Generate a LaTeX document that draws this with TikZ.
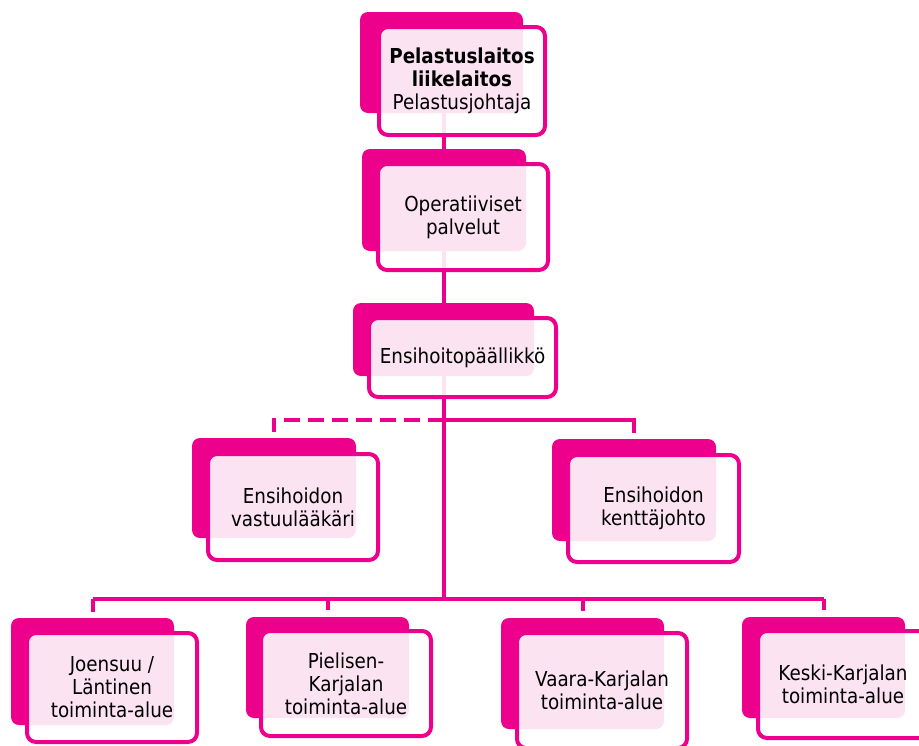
\documentclass[tikz,border=0pt]{standalone}
\usepackage{fontspec}
\setmainfont[FakeStretch=0.89]{DejaVu Sans}
\definecolor{mag}{HTML}{EC008C}
\pgfdeclarelayer{bg}
\pgfsetlayers{bg,main}
\begin{document}
\begin{tikzpicture}[x=1pt,y=-1pt,
  backbox/.style={fill=mag,draw=none,rounded corners=8pt,inner sep=0pt,outer sep=0pt},
  frontbox/.style={draw=mag,line width=4pt,rounded corners=9pt,fill=white,fill opacity=0.89,text opacity=1,
     inner sep=0pt,outer sep=0pt,align=center,text=black,font=\fontsize{20.6}{23}\selectfont},
  conn/.style={draw=mag,line width=4pt},
  dashconn/.style={conn,dash pattern=on 16pt off 8pt}]
\useasboundingbox (0,0) rectangle (919,745);
\clip (0,0) rectangle (919,745);
% junction coordinates
\coordinate (j0) at (444,100);
\coordinate (j1) at (444,420);
\coordinate (j2) at (444,599);
% back boxes
\node[backbox,minimum width=163pt,minimum height=101pt] (b1) at (441.5,62.5) {};
\node[backbox,minimum width=164pt,minimum height=102pt] (b2) at (444,200) {};
\node[backbox,minimum width=181pt,minimum height=73pt] (b3) at (443.5,339.5) {};
\node[backbox,minimum width=164pt,minimum height=100pt] (b4) at (274,488) {};
\node[backbox,minimum width=164pt,minimum height=102pt] (b5) at (634,490) {};
\node[backbox,minimum width=163pt,minimum height=107pt] (b6) at (92.5,671.5) {};
\node[backbox,minimum width=163pt,minimum height=101pt] (b7) at (327.5,667.5) {};
\node[backbox,minimum width=163pt,minimum height=111pt] (b8) at (582.5,673.5) {};
\node[backbox,minimum width=163pt,minimum height=101pt] (b9) at (823.5,667.5) {};
% connectors, behind the boxes
\begin{pgfonlayer}{bg}
\draw[conn] (j0) -- (j2);
\draw[dashconn] (j1) -| ([yshift=6pt]b4.north);
\draw[conn] (j1) -| ([yshift=6pt]b5.north);
\draw[conn] (j2 -| b6.center) -- (j2 -| b9.center);
\draw[conn] (j2 -| b6.center) -- ([yshift=6pt]b6.north);
\draw[conn] (j2 -| b7.center) -- ([yshift=7pt]b7.north);
\draw[conn] (j2 -| b8.center) -- ([yshift=7pt]b8.north);
\draw[conn] (j2 -| b9.center) -- ([yshift=7pt]b9.north);
\end{pgfonlayer}
% front boxes with text
\node[frontbox,minimum width=166pt,minimum height=108pt] (n1) at (462,81)
  {\textbf{Pelastuslaitos}\\\textbf{liikelaitos}\\Pelastusjohtaja};
\node[frontbox,minimum width=170pt,minimum height=106pt] (n2) at (463,217)
  {Operatiiviset\\palvelut};
\node[frontbox,minimum width=187pt,minimum height=79pt] (n3) at (462.5,357.5)
  {Ensihoitopäällikkö};
\node[frontbox,minimum width=170pt,minimum height=106pt] (n4) at (293,507)
  {Ensihoidon\\vastuulääkäri};
\node[frontbox,minimum width=171pt,minimum height=107pt] (n5) at (653.5,508.5)
  {Ensihoidon\\kenttäjohto};
\node[frontbox,minimum width=170pt,minimum height=109pt] (n6) at (112,687.5)
  {Joensuu /\\Läntinen\\toiminta-alue};
\node[frontbox,minimum width=170pt,minimum height=105pt] (n7) at (346,683.5)
  {Pielisen-\\Karjalan\\toiminta-alue};
\node[frontbox,minimum width=170pt,minimum height=115pt] (n8) at (602,690.5)
  {Vaara-Karjalan\\toiminta-alue};
\node[frontbox,minimum width=170pt,minimum height=107pt] (n9) at (843,684.5)
  {Keski-Karjalan\\toiminta-alue};
\end{tikzpicture}
\end{document}
